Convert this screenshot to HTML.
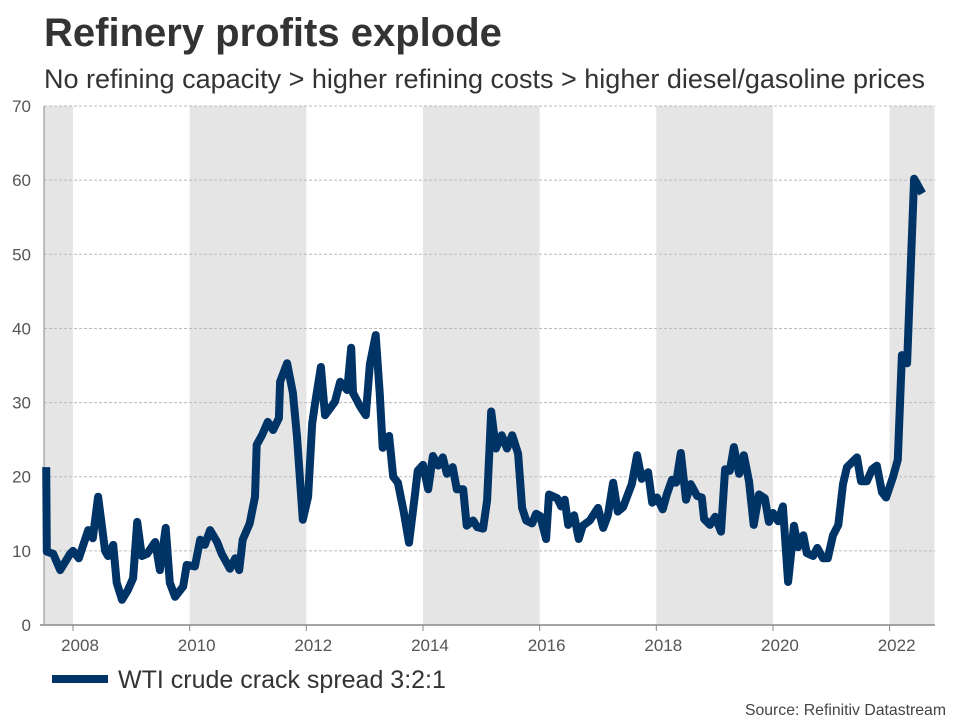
<!DOCTYPE html>
<html><head><meta charset="utf-8"><style>
body{margin:0;background:#fff;font-family:"Liberation Sans",Arial,sans-serif;}
svg text{font-family:"Liberation Sans",Arial,sans-serif;}
</style></head><body>
<svg id="c" width="960" height="720" xmlns="http://www.w3.org/2000/svg">
<text x="44" y="46" font-size="40" font-weight="bold" fill="#333">Refinery profits explode</text>
<text x="44" y="88" font-size="27" fill="#333">No refining capacity &gt; higher refining costs &gt; higher diesel/gasoline prices</text>
<g id="bands"></g><g id="grid"></g><g id="axes"></g><g id="series"></g>
<line x1="52" y1="679" x2="108" y2="679" stroke="#003366" stroke-width="8"/>
<text x="118" y="688" font-size="25" fill="#333">WTI crude crack spread 3:2:1</text>
<text x="946" y="715" font-size="15.8" fill="#444" text-anchor="end">Source: Refinitiv Datastream</text>
</svg>
<script>
const dates=[2007.54,2007.55,2007.66,2007.78,2007.95,2008.00,2008.10,2008.26,2008.34,2008.43,2008.55,2008.60,2008.69,2008.75,2008.84,2008.94,2009.03,2009.10,2009.18,2009.27,2009.41,2009.49,2009.59,2009.66,2009.75,2009.89,2009.95,2010.09,2010.18,2010.26,2010.35,2010.47,2010.55,2010.69,2010.78,2010.85,2010.91,2011.03,2011.12,2011.15,2011.24,2011.34,2011.43,2011.53,2011.55,2011.67,2011.77,2011.84,2011.94,2012.03,2012.10,2012.15,2012.25,2012.32,2012.49,2012.58,2012.70,2012.77,2012.80,2012.92,2013.02,2013.09,2013.19,2013.26,2013.31,2013.42,2013.49,2013.57,2013.67,2013.76,2013.86,2013.91,2014.00,2014.09,2014.17,2014.26,2014.34,2014.41,2014.51,2014.58,2014.69,2014.75,2014.86,2014.93,2015.03,2015.10,2015.17,2015.25,2015.35,2015.44,2015.53,2015.63,2015.70,2015.77,2015.87,2015.94,2016.01,2016.11,2016.16,2016.30,2016.37,2016.43,2016.49,2016.59,2016.67,2016.74,2016.86,2017.00,2017.09,2017.17,2017.26,2017.34,2017.43,2017.58,2017.67,2017.75,2017.86,2017.93,2018.01,2018.11,2018.18,2018.27,2018.34,2018.42,2018.51,2018.59,2018.70,2018.78,2018.82,2018.92,2019.01,2019.11,2019.18,2019.26,2019.33,2019.42,2019.50,2019.59,2019.67,2019.76,2019.86,2019.93,2020.00,2020.09,2020.17,2020.26,2020.36,2020.43,2020.52,2020.58,2020.69,2020.76,2020.86,2020.94,2021.03,2021.12,2021.20,2021.27,2021.44,2021.51,2021.61,2021.70,2021.78,2021.87,2021.94,2022.06,2022.14,2022.21,2022.30,2022.42,2022.56];
const values=[21.3,9.9,9.6,7.4,9.6,10,9,12.8,11.7,17.3,10,9.3,10.8,5.7,3.4,4.7,6.3,13.9,9.3,9.6,11.2,7.4,13.1,5.7,3.8,5.2,8.1,7.9,11.5,10.8,12.8,11.2,9.6,7.6,9,7.4,11.5,13.7,17.3,24.3,25.6,27.4,26.3,27.9,32.8,35.3,31.3,25.4,14.2,17.3,27.2,29.9,34.8,28.3,30.1,32.8,31.7,37.4,31.3,29.5,28.3,35.2,39.1,31.1,23.9,25.5,20,19.2,15.3,11.1,17.4,20.8,21.6,18.3,22.8,21.5,22.6,20.4,21.3,18.3,18.3,13.4,14.1,13.2,13,16.8,28.8,23.8,25.6,23.8,25.6,23.1,15.8,14.1,13.7,15,14.7,11.6,17.6,17.1,16,16.9,13.5,14.8,11.6,13.4,14.1,15.8,13.1,14.8,19.2,15.3,15.9,19,22.9,19.7,20.6,16.5,17.2,15.6,17.6,19.6,19.2,23.2,16.9,19,17.4,17.2,14.3,13.5,14.6,12.6,21,20.8,24,20.4,22.9,19.4,13.5,17.6,17.1,13.9,15.1,14,16,5.8,13.4,10.5,12.1,9.7,9.3,10.4,9,9,12.1,13.5,19,21.3,22.6,19.4,19.4,21,21.5,17.9,17.2,20,22.3,36.4,35.3,60.2,58.2];
const yTicks=[0,10,20,30,40,50,60,70];
const xTicks=[2008,2010,2012,2014,2016,2018,2020,2022];
const bandStarts=[2007.5,2010,2014,2018,2022];
const bandEnds=[2008,2012,2016,2020,2022.77];
const NS='http://www.w3.org/2000/svg';
const X=t=>73+(t-2008)*58.33;
const Y=v=>625-v*7.414;
function mk(tag,attrs,parent){const e=document.createElementNS(NS,tag);for(const k in attrs)e.setAttribute(k,attrs[k]);document.getElementById(parent).appendChild(e);return e;}
for(let i=0;i<bandStarts.length;i++){
 const e=mk('rect',{x:X(bandStarts[i]),y:Y(70),width:X(bandEnds[i])-X(bandStarts[i]),height:Y(0)-Y(70),fill:'#e5e5e5'},'bands');
 
 
}
yTicks.forEach(v=>{
 if(v>0){const g=mk('line',{x1:44,x2:935,y1:Y(v),y2:Y(v),stroke:'#bbb','stroke-dasharray':'3,2','stroke-width':1},'grid');
 
 }
 const t=mk('text',{x:31,y:Y(v)+6,'text-anchor':'end','font-size':17,fill:'#555'},'axes');
 t.textContent=v;
 
 
});
const ya=mk('line',{x1:44,x2:44,y1:Y(70),y2:Y(0),stroke:'#888','stroke-width':1},'axes');


const xa=mk('line',{x1:40,x2:935,y1:625,y2:625,stroke:'#888','stroke-width':1.5},'axes');


xTicks.forEach(v=>{
 const l=mk('line',{x1:X(v),x2:X(v),y1:625,y2:631,stroke:'#888'},'axes');
 
 
 const t=mk('text',{x:X(v)+7,y:651,'text-anchor':'middle','font-size':17,fill:'#555'},'axes');
 t.textContent=v;
 
 
});
const d=dates.map((t,i)=>(i?'L':'M')+X(t).toFixed(1)+','+Y(values[i]).toFixed(1)).join('');
const p=mk('path',{d:d,fill:'none',stroke:'#003366','stroke-width':8,'stroke-linejoin':'round','stroke-linecap':'butt'},'series');


</script>
</body></html>
